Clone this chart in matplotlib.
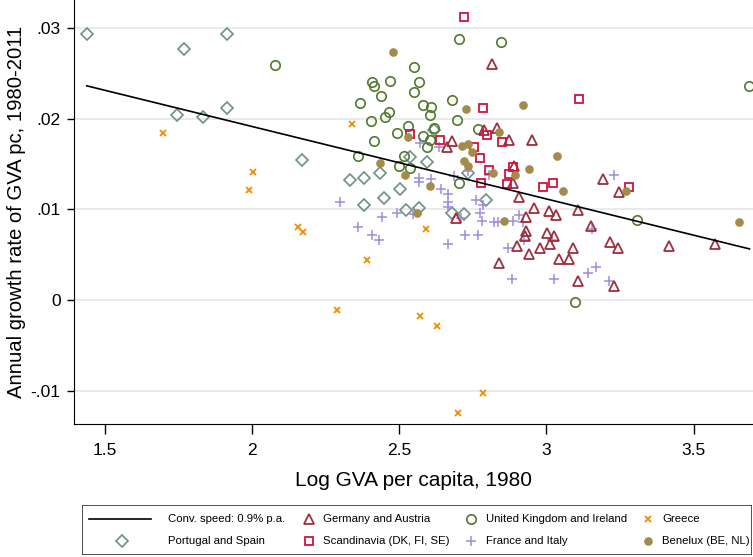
import matplotlib.pyplot as plt
from matplotlib.patches import Rectangle

plt.rcParams["font.family"] = ["Liberation Sans", "DejaVu Sans"]

# Log GVA per capita 1980 (x) vs annual growth of GVA pc 1980-2011 (y), per region
de_at_x = [2.8141, 2.7896, 2.8317, 2.6793, 2.662, 2.8725, 2.9506, 2.8905, 2.8871, 2.9081,
           2.9594, 3.0104, 3.0321, 3.1088, 3.151, 3.1937, 3.246, 2.9312, 2.9323, 2.9295,
           3.0036, 3.027, 3.0138, 2.9017, 2.9424, 2.9788, 3.0891, 3.0433, 3.0783, 2.8406,
           3.2175, 3.2419, 3.1068, 3.2311, 3.4151, 3.5737, 2.6935]
de_at_y = [0.02601, 0.01874, 0.01893, 0.01757, 0.01691, 0.01764, 0.01764, 0.01483, 0.01291, 0.01142,
           0.0101, 0.00982, 0.00938, 0.00993, 0.00819, 0.01335, 0.01189, 0.0092, 0.00759, 0.00709,
           0.00737, 0.00707, 0.00619, 0.00599, 0.00509, 0.00575, 0.00575, 0.0045, 0.0045, 0.00406,
           0.00638, 0.00575, 0.00208, 0.00153, 0.006, 0.00616, 0.00909]

uk_ie_x = [2.0789, 2.7044, 2.8463, 2.5509, 2.4093, 2.4151, 2.4694, 2.5679, 2.4399, 2.5509,
           2.3676, 2.5805, 2.6076, 2.6053, 2.4667, 2.4525, 2.681, 2.698, 2.4042, 2.5295,
           2.6188, 2.4942, 2.5805, 2.6053, 2.5941, 2.4151, 2.7689, 2.3618, 2.518, 2.5007,
           2.5374, 2.7027, 3.6885, 3.3088, 3.0976]
uk_ie_y = [0.02587, 0.02877, 0.02847, 0.02563, 0.02403, 0.02356, 0.02414, 0.02406, 0.02249, 0.0229,
           0.02172, 0.0215, 0.02131, 0.0204, 0.02069, 0.02021, 0.02202, 0.01985, 0.01974, 0.01919,
           0.01893, 0.01845, 0.01808, 0.01764, 0.01691, 0.01748, 0.01882, 0.01591, 0.01585, 0.01475,
           0.01453, 0.01291, 0.02359, 0.00883, -0.00017]

gr_x = [1.6986, 2.0032, 1.9917, 2.157, 2.174, 2.3414, 2.3903, 2.2905, 2.5723, 2.629,
        2.7014, 2.786, 2.5917]
gr_y = [0.01845, 0.01409, 0.01217, 0.00809, 0.00751, 0.01944, 0.00439, -0.00105, -0.00174, -0.00284,
        -0.01239, -0.01025, 0.00781]

pt_es_x = [1.4396, 1.771, 1.916, 1.746, 1.8345, 1.915, 2.1706, 2.332, 2.381, 2.4355,
           2.5357, 2.5934, 2.5044, 2.450, 2.381, 2.5248, 2.5669, 2.680, 2.7207, 2.7954,
           2.7326, 2.6189]
pt_es_y = [0.02928, 0.02767, 0.02935, 0.02036, 0.02014, 0.02117, 0.01541, 0.01329, 0.01351, 0.01404,
           0.01574, 0.0152, 0.0123, 0.01122, 0.01045, 0.00988, 0.01012, 0.00964, 0.00946, 0.01109,
           0.01406, 0.01874]

scand_x = [2.7217, 3.1112, 2.7842, 2.5374, 2.6392, 2.7988, 2.8514, 2.7553, 2.775, 2.8063,
           2.8881, 2.8718, 2.7774, 2.8667, 2.9879, 3.0212, 3.282]
scand_y = [0.03116, 0.02219, 0.02113, 0.01825, 0.01764, 0.01819, 0.01737, 0.01687, 0.01563, 0.01439,
           0.0147, 0.01395, 0.01289, 0.01276, 0.0125, 0.01296, 0.0125]

fr_it_x = [2.2997, 2.3618, 2.4073, 2.4321, 2.4423, 2.4942, 2.5465, 2.5662, 2.5662, 2.607,
           2.5723, 2.6368, 2.6416, 2.6647, 2.6647, 2.6647, 2.6654, 2.6878, 2.7353, 2.8039,
           2.7241, 2.7693, 2.7095, 2.7615, 2.7842, 2.775, 2.7818, 2.8226, 2.8362, 2.8854,
           2.9085, 2.9211, 2.9255, 2.8711, 2.8827, 3.0185, 3.0273, 3.1543, 3.1428, 3.1689,
           3.2141, 3.2311]
fr_it_y = [0.01081, 0.00809, 0.00718, 0.00663, 0.0092, 0.00957, 0.00946, 0.01346, 0.01302, 0.0134,
           0.01731, 0.01685, 0.0123, 0.01175, 0.01081, 0.01032, 0.00622, 0.01373, 0.01423, 0.01379,
           0.00721, 0.00715, 0.00902, 0.01104, 0.01048, 0.00957, 0.00872, 0.00861, 0.00865, 0.00867,
           0.00938, 0.00865, 0.00663, 0.0058, 0.0023, 0.00663, 0.0023, 0.00781, 0.003, 0.00369,
           0.00208, 0.01379]

benelux_x = [2.4786, 2.7275, 2.9221, 2.5316, 2.8406, 2.7129, 2.7353, 2.7469, 2.7207, 2.7353,
             2.8202, 2.8949, 2.9424, 3.0358, 2.4355, 2.5204, 2.6042, 3.0552, 3.2708, 2.8555,
             2.5621, 3.6535]
benelux_y = [0.02737, 0.02102, 0.02148, 0.01792, 0.01856, 0.01695, 0.0172, 0.01635, 0.01536, 0.01483,
             0.01406, 0.01376, 0.01447, 0.01591, 0.01514, 0.01384, 0.0126, 0.01199, 0.01208, 0.00869,
             0.00957, 0.00858]

# fitted convergence line, end points
fit_x = [1.4396, 3.69]
fit_y = [0.02361, 0.00565]

x_ticks = [1.5, 2, 2.5, 3, 3.5]
x_ticklabels = ["1.5", "2", "2.5", "3", "3.5"]
y_ticks = [0.03, 0.02, 0.01, 0, -0.01]
y_ticklabels = [".03", ".02", ".01", "0", "-.01"]

c_de = "#9e2f3c"
c_uk = "#527a2c"
c_gr = "#f28c00"
c_es = "#6f9182"
c_sc = "#d2123e"
c_fr = "#9a8fe0"
c_be = "#a38b4a"

fig = plt.figure(figsize=(7.53, 5.57), dpi=100)
ax = fig.add_axes([0.0989, 0.2388, 0.9011, 0.7612])

for y in y_ticks:
    ax.axhline(y, color="#e6e6e6", lw=1.2, zorder=0)

ax.plot(pt_es_x, pt_es_y, ls="none", marker="D", ms=6.2, mfc="none", mec=c_es, mew=1.2)
ax.plot(gr_x, gr_y, ls="none", marker="x", ms=4.6, mec=c_gr, mew=1.3)
ax.plot(fr_it_x, fr_it_y, ls="none", marker="+", ms=7, mec=c_fr, mew=1.1)
ax.plot(uk_ie_x, uk_ie_y, ls="none", marker="o", ms=6.8, mfc="none", mec=c_uk, mew=1.2)
ax.plot(de_at_x, de_at_y, ls="none", marker="^", ms=7, mfc="none", mec=c_de, mew=1.3)
ax.plot(scand_x, scand_y, ls="none", marker="s", ms=6.3, mfc="none", mec=c_sc, mew=1.3)
ax.plot(benelux_x, benelux_y, ls="none", marker="o", ms=5.2, mfc=c_be, mec=c_be)
ax.plot(fit_x, fit_y, color="black", lw=1.2)

ax.set_xlim(1.398, 3.702)
ax.set_ylim(-0.01363, 0.03306)
ax.set_xticks(x_ticks)
ax.set_xticklabels(x_ticklabels)
ax.set_yticks(y_ticks)
ax.set_yticklabels(y_ticklabels)
ax.tick_params(axis="x", length=7, width=1, labelsize=12.5, pad=7)
ax.tick_params(axis="y", length=5, width=1, labelsize=12.5, pad=5)
ax.spines["top"].set_visible(False)
ax.spines["right"].set_visible(False)
ax.set_xlabel("Log GVA per capita, 1980", fontsize=15, labelpad=9)
ax.set_ylabel("Annual growth rate of GVA pc, 1980-2011", fontsize=14.6, labelpad=3)

# legend box drawn by hand to get the Stata layout
lg = fig.add_axes([82 / 753, 2 / 557, 670 / 753, 50 / 557])
lg.set_xlim(0, 1)
lg.set_ylim(0, 1)
lg.axis("off")
lg.add_patch(Rectangle((0, 0), 1, 1, fill=False, ec="#333333", lw=1.2, transform=lg.transAxes))
r1, r2 = 0.72, 0.28
fs = 8.2
lg.plot([0.011, 0.103], [r1, r1], color="black", lw=1.2)
lg.text(0.128, r1, "Conv. speed: 0.9% p.a.", fontsize=fs, va="center")
lg.plot([0.059], [r2], marker="D", ms=6.2, mfc="none", mec=c_es, mew=1.2)
lg.text(0.128, r2, "Portugal and Spain", fontsize=fs, va="center")
lg.plot([0.339], [r1], marker="^", ms=7, mfc="none", mec=c_de, mew=1.3)
lg.text(0.359, r1, "Germany and Austria", fontsize=fs, va="center")
lg.plot([0.339], [r2], marker="s", ms=6.3, mfc="none", mec=c_sc, mew=1.3)
lg.text(0.359, r2, "Scandinavia (DK, FI, SE)", fontsize=fs, va="center")
lg.plot([0.580], [r1], marker="o", ms=6.8, mfc="none", mec=c_uk, mew=1.2)
lg.text(0.603, r1, "United Kingdom and Ireland", fontsize=fs, va="center")
lg.plot([0.580], [r2], marker="+", ms=7, mec=c_fr, mew=1.1)
lg.text(0.603, r2, "France and Italy", fontsize=fs, va="center")
lg.plot([0.845], [r1], marker="x", ms=4.6, mec=c_gr, mew=1.3)
lg.text(0.866, r1, "Greece", fontsize=fs, va="center")
lg.plot([0.845], [r2], marker="o", ms=5.2, mfc=c_be, mec=c_be)
lg.text(0.866, r2, "Benelux (BE, NL)", fontsize=fs, va="center")

fig.savefig("out.png", dpi=100)
